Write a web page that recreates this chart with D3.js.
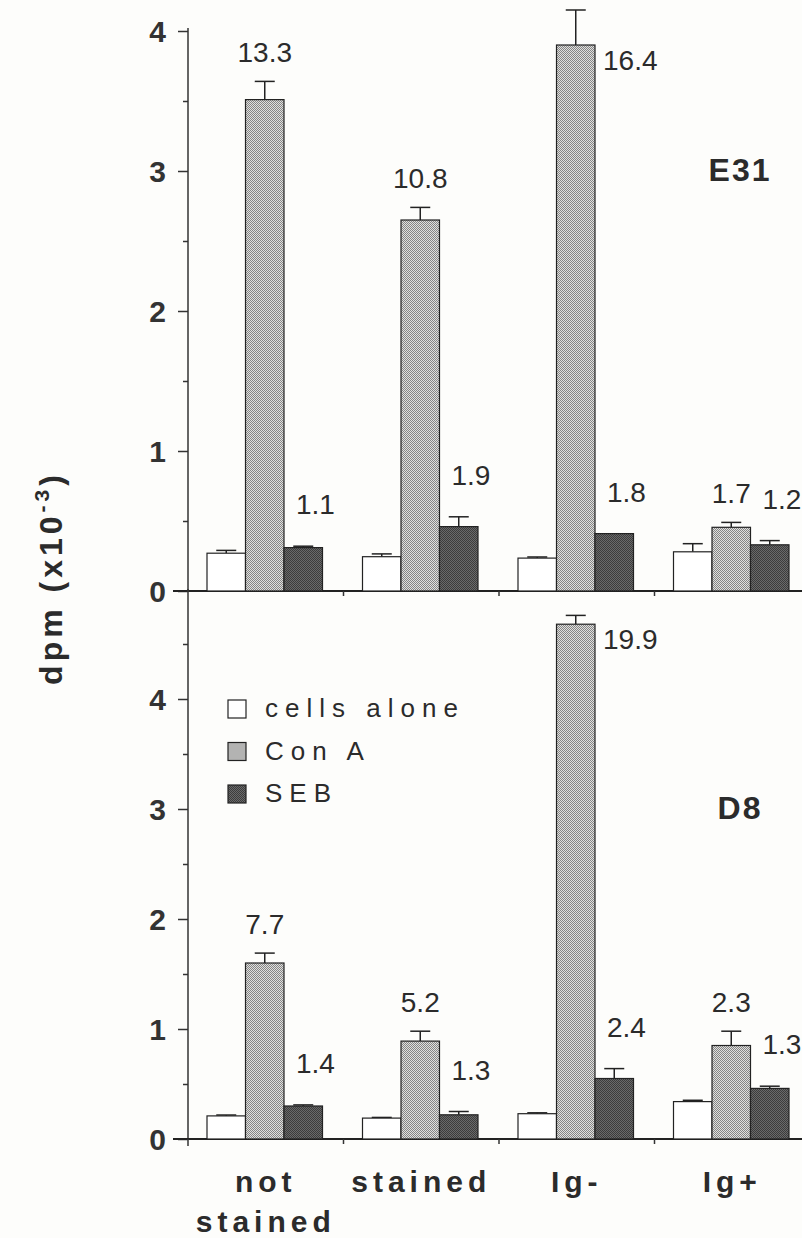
<!DOCTYPE html>
<html>
<head>
<meta charset="utf-8">
<script src="https://cdn.jsdelivr.net/npm/d3@7"></script>
<style>
  body { margin: 0; background: #fdfdfb; }
  text { font-family: "Liberation Sans", Arial, sans-serif; fill: #2b2b2b; }
  .tick text { font-size: 30px; font-weight: bold; fill: #333; }
  .tick line, .domain { stroke: #333; stroke-width: 1.5; }
  .bar { stroke: #222; stroke-width: 1.2; }
  .err { stroke: #222; stroke-width: 1.5; }
  .si { font-size: 28px; }
</style>
</head>
<body>
<svg id="chart" width="802" height="1238"></svg>
<script>
var categories = [ "not stained", "stained", "Ig-", "Ig+" ];
var seriesNames = [ "cells alone", "Con A", "SEB" ];

// E31 clone (dpm x10^-3)
var e31Cells = [ 0.27, 0.245, 0.235, 0.28 ];
var e31CellsErr = [ 0.02, 0.02, 0.008, 0.058 ];
var e31ConA = [ 3.51, 2.65, 3.90, 0.455 ];
var e31ConAErr = [ 0.13, 0.09, 0.25, 0.035 ];
var e31Seb = [ 0.31, 0.46, 0.41, 0.33 ];
var e31SebErr = [ 0.01, 0.07, 0, 0.03 ];
var e31ConASI = [ "13.3", "10.8", "16.4", "1.7" ];
var e31SebSI = [ "1.1", "1.9", "1.8", "1.2" ];
var e31Ticks = [ 0, 1, 2, 3, 4 ];
var e31Minor = [ 0.5, 1.5, 2.5, 3.5 ];

// D8 clone
var d8Cells = [ 0.21, 0.19, 0.23, 0.34 ];
var d8CellsErr = [ 0.008, 0.006, 0.008, 0.012 ];
var d8ConA = [ 1.6, 0.89, 4.68, 0.85 ];
var d8ConAErr = [ 0.09, 0.09, 0.08, 0.13 ];
var d8Seb = [ 0.3, 0.22, 0.55, 0.46 ];
var d8SebErr = [ 0.01, 0.03, 0.09, 0.02 ];
var d8ConASI = [ "7.7", "5.2", "19.9", "2.3" ];
var d8SebSI = [ "1.4", "1.3", "2.4", "1.3" ];
var d8Ticks = [ 0, 1, 2, 3, 4 ];
var d8Minor = [ 0.5, 1.5, 2.5, 3.5, 4.5 ];

var axisX = 188;

var svg = d3.select( "#chart" );
var defs = svg.append( "defs" );

// halftone-ish fills
function addPattern( id, bg, fg ) {
    var p = defs.append( "pattern" )
        .attr( "id", id )
        .attr( "width", 2 )
        .attr( "height", 2 )
        .attr( "patternUnits", "userSpaceOnUse" );
    p.append( "rect" ).attr( "width", 2 ).attr( "height", 2 ).attr( "fill", bg );
    p.append( "rect" ).attr( "width", 1 ).attr( "height", 1 ).attr( "fill", fg );
    p.append( "rect" ).attr( "x", 1 ).attr( "y", 1 ).attr( "width", 1 ).attr( "height", 1 ).attr( "fill", fg );
}
addPattern( "conaFill", "#e0e0de", "#858585" );
addPattern( "sebFill", "#6a6a6a", "#3c3c3c" );
var fills = [ "#ffffff", "url(#conaFill)", "url(#sebFill)" ];

var x0 = d3.scaleBand()
    .domain( categories )
    .range( [ axisX, 810 ] );

var x1 = d3.scaleBand()
    .domain( seriesNames )
    .range( [ 19, 134.5 ] );

var panels = [ {
    name: "E31",
    values: [ e31Cells, e31ConA, e31Seb ],
    errs: [ e31CellsErr, e31ConAErr, e31SebErr ],
    conaSI: e31ConASI,
    sebSI: e31SebSI,
    ticks: e31Ticks,
    minor: e31Minor,
    y: d3.scaleLinear().domain( [ 0, 4 ] ).range( [ 591, 31 ] ),
    top: 28
}, {
    name: "D8",
    values: [ d8Cells, d8ConA, d8Seb ],
    errs: [ d8CellsErr, d8ConAErr, d8SebErr ],
    conaSI: d8ConASI,
    sebSI: d8SebSI,
    ticks: d8Ticks,
    minor: d8Minor,
    y: d3.scaleLinear().domain( [ 0, 5 ] ).range( [ 1139, 589 ] ),
    top: 589
} ];

panels.forEach( function( p, pi ) {
    var y = p.y;
    var g = svg.append( "g" );

    // y axis with major and minor ticks
    g.append( "g" )
        .attr( "transform", "translate(" + axisX + ",0)" )
        .call( d3.axisLeft( y ).tickValues( p.ticks ).tickSize( 10 ).tickSizeOuter( 0 ).tickPadding( 12 ).tickFormat( d3.format( "d" ) ) )
        .call( function( a ) {
            a.select( ".domain" ).attr( "d", "M0," + y( 0 ) + "V" + p.top );
            a.selectAll( ".tick text" ).attr( "dy", "0.36em" );
        } );

    g.append( "g" )
        .attr( "transform", "translate(" + axisX + ",0)" )
        .call( d3.axisLeft( y ).tickValues( p.minor ).tickSize( 5 ).tickSizeOuter( 0 ).tickFormat( "" ) )
        .call( function( a ) {
            a.select( ".domain" ).remove();
        } );

    // baseline
    g.append( "line" )
        .attr( "x1", axisX - 15 )
        .attr( "x2", 802 )
        .attr( "y1", y( 0 ) )
        .attr( "y2", y( 0 ) )
        .attr( "stroke", "#222" )
        .attr( "stroke-width", 2 );

    // small group ticks under baseline
    g.selectAll( ".gtick" )
        .data( categories.slice( 1 ) )
        .enter()
        .append( "line" )
        .attr( "x1", function( d ) { return x0( d ); } )
        .attr( "x2", function( d ) { return x0( d ); } )
        .attr( "y1", y( 0 ) )
        .attr( "y2", y( 0 ) + 5 )
        .attr( "stroke", "#333" )
        .attr( "stroke-width", 1.5 );

    if ( pi === 1 ) {
        g.append( "line" )
            .attr( "x1", axisX ).attr( "x2", axisX )
            .attr( "y1", y( 0 ) ).attr( "y2", y( 0 ) + 7 )
            .attr( "stroke", "#333" ).attr( "stroke-width", 1.5 );
    }

    var rows = [];
    categories.forEach( function( c, i ) {
        seriesNames.forEach( function( s, j ) {
            rows.push( { cat: c, series: s, si: j, v: p.values[ j ][ i ], e: p.errs[ j ][ i ], i: i } );
        } );
    } );

    var bw = x1.bandwidth();
    var barX = function( d ) { return x0( d.cat ) + x1( d.series ); };

    // error bars first, bar outline over them
    var errRows = rows.filter( function( d ) { return d.e > 0; } );
    g.selectAll( ".errv" )
        .data( errRows )
        .enter()
        .append( "line" )
        .attr( "class", "err" )
        .attr( "x1", function( d ) { return barX( d ) + bw / 2; } )
        .attr( "x2", function( d ) { return barX( d ) + bw / 2; } )
        .attr( "y1", function( d ) { return y( d.v ); } )
        .attr( "y2", function( d ) { return y( d.v + d.e ); } );
    g.selectAll( ".errc" )
        .data( errRows )
        .enter()
        .append( "line" )
        .attr( "class", "err" )
        .attr( "x1", function( d ) { return barX( d ) + bw / 2 - 10; } )
        .attr( "x2", function( d ) { return barX( d ) + bw / 2 + 10; } )
        .attr( "y1", function( d ) { return y( d.v + d.e ); } )
        .attr( "y2", function( d ) { return y( d.v + d.e ); } );

    g.selectAll( ".bar" )
        .data( rows )
        .enter()
        .append( "rect" )
        .attr( "class", "bar" )
        .attr( "x", barX )
        .attr( "y", function( d ) { return y( d.v ); } )
        .attr( "width", bw )
        .attr( "height", function( d ) { return y( 0 ) - y( d.v ); } )
        .attr( "fill", function( d ) { return fills[ d.si ]; } );

    // stimulation index labels
    var conaRows = rows.filter( function( d ) { return d.si === 1; } );
    g.selectAll( ".sicona" )
        .data( conaRows )
        .enter()
        .append( "text" )
        .attr( "class", "si" )
        .each( function( d ) {
            var t = d3.select( this ).text( p.conaSI[ d.i ] );
            var yb = y( d.v + d.e ) - 19;
            if ( yb - 22 < p.top ) {
                t.attr( "x", barX( d ) + bw + 8 )
                    .attr( "y", y( d.v ) + 25 )
                    .attr( "text-anchor", "start" );
            } else {
                t.attr( "x", barX( d ) + bw / 2 )
                    .attr( "y", yb )
                    .attr( "text-anchor", "middle" );
            }
        } );

    var sebRows = rows.filter( function( d ) { return d.si === 2; } );
    g.selectAll( ".siseb" )
        .data( sebRows )
        .enter()
        .append( "text" )
        .attr( "class", "si" )
        .attr( "x", function( d ) { return barX( d ) + 12; } )
        .attr( "y", function( d ) { return y( d.v + d.e ) - 32; } )
        .text( function( d ) { return p.sebSI[ d.i ]; } );

    // panel name
    g.append( "text" )
        .attr( "x", 740 )
        .attr( "y", y( 3 ) + 10 )
        .attr( "text-anchor", "middle" )
        .style( "font-size", "32px" )
        .style( "font-weight", "bold" )
        .style( "letter-spacing", "2px" )
        .text( p.name );

    // legend lives in the lower panel
    if ( pi === 1 ) {
        var leg = g.selectAll( ".legend" )
            .data( seriesNames )
            .enter()
            .append( "g" )
            .attr( "class", "legend" )
            .attr( "transform", function( d, i ) {
                return "translate(228," + ( y( 4 ) + 18 + i * 42.5 ) + ")";
            } );
        leg.append( "rect" )
            .attr( "y", -17 )
            .attr( "width", 18 )
            .attr( "height", 18 )
            .attr( "fill", function( d, i ) { return fills[ i ]; } )
            .attr( "stroke", "#222" )
            .attr( "stroke-width", 1.2 );
        leg.append( "text" )
            .attr( "x", 37 )
            .attr( "y", 0 )
            .style( "font-size", "26px" )
            .style( "letter-spacing", "7px" )
            .text( function( d ) { return d; } );
    }
} );

// category labels under the lower panel
var xLab = svg.append( "g" );
xLab.selectAll( "text" )
    .data( categories )
    .enter()
    .append( "text" )
    .attr( "text-anchor", "middle" )
    .attr( "transform", function( d ) {
        return "translate(" + ( x0( d ) + x0.bandwidth() / 2 ) + ",1192)";
    } )
    .style( "font-size", "30px" )
    .style( "font-weight", "bold" )
    .style( "letter-spacing", "5px" )
    .each( function( d ) {
        var parts = d.split( " " );
        var t = d3.select( this );
        parts.forEach( function( w, k ) {
            t.append( "tspan" )
                .attr( "x", 0 )
                .attr( "dy", k === 0 ? 0 : 40 )
                .text( w );
        } );
    } );

// y axis title
var yt = svg.append( "text" )
    .attr( "transform", "translate(62,578) rotate(-90)" )
    .attr( "text-anchor", "middle" )
    .style( "font-size", "32px" )
    .style( "font-weight", "bold" )
    .style( "letter-spacing", "4px" );
yt.append( "tspan" ).text( "dpm (x10" );
yt.append( "tspan" ).attr( "dy", -13 ).style( "font-size", "21px" ).text( "-3" );
yt.append( "tspan" ).attr( "dy", 13 ).text( ")" );
</script>
</body>
</html>
